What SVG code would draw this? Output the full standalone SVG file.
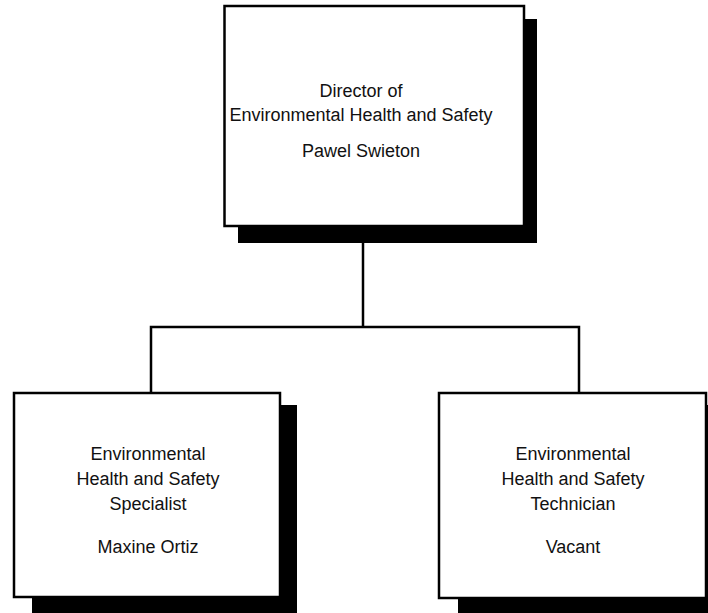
<svg xmlns="http://www.w3.org/2000/svg" width="708" height="613" viewBox="0 0 708 613">
<style>
.shadow{fill:#000}
.box{fill:#fff;stroke:#000;stroke-width:2.5}
.conn{fill:none;stroke:#000;stroke-width:2.5}
text{font-family:"Liberation Sans",Arial,sans-serif;font-size:18px;fill:#111;text-anchor:middle}
</style>
<rect width="708" height="613" fill="#fff"/>
<g id="connectors">
<path class="conn" d="M363 243 V327"/>
<path class="conn" d="M151 393 V327 H579 V393"/>
</g>
<g id="director">
<rect class="shadow" x="238" y="19" width="299" height="224"/>
<rect class="box" x="224.5" y="6" width="299.5" height="220"/>
<text x="361" y="97">Director of</text>
<text x="361" y="121">Environmental Health and Safety</text>
<text x="361" y="157">Pawel Swieton</text>
</g>
<g id="specialist">
<rect class="shadow" x="32" y="405" width="265" height="220"/>
<rect class="box" x="14" y="393" width="266" height="204"/>
<text x="148" y="460">Environmental</text>
<text x="148" y="485">Health and Safety</text>
<text x="148" y="510">Specialist</text>
<text x="148" y="553">Maxine Ortiz</text>
</g>
<g id="technician">
<rect class="shadow" x="458" y="405" width="265" height="220"/>
<rect class="box" x="439" y="393" width="267" height="205"/>
<text x="573" y="460">Environmental</text>
<text x="573" y="485">Health and Safety</text>
<text x="573" y="510">Technician</text>
<text x="573" y="553">Vacant</text>
</g>
</svg>
